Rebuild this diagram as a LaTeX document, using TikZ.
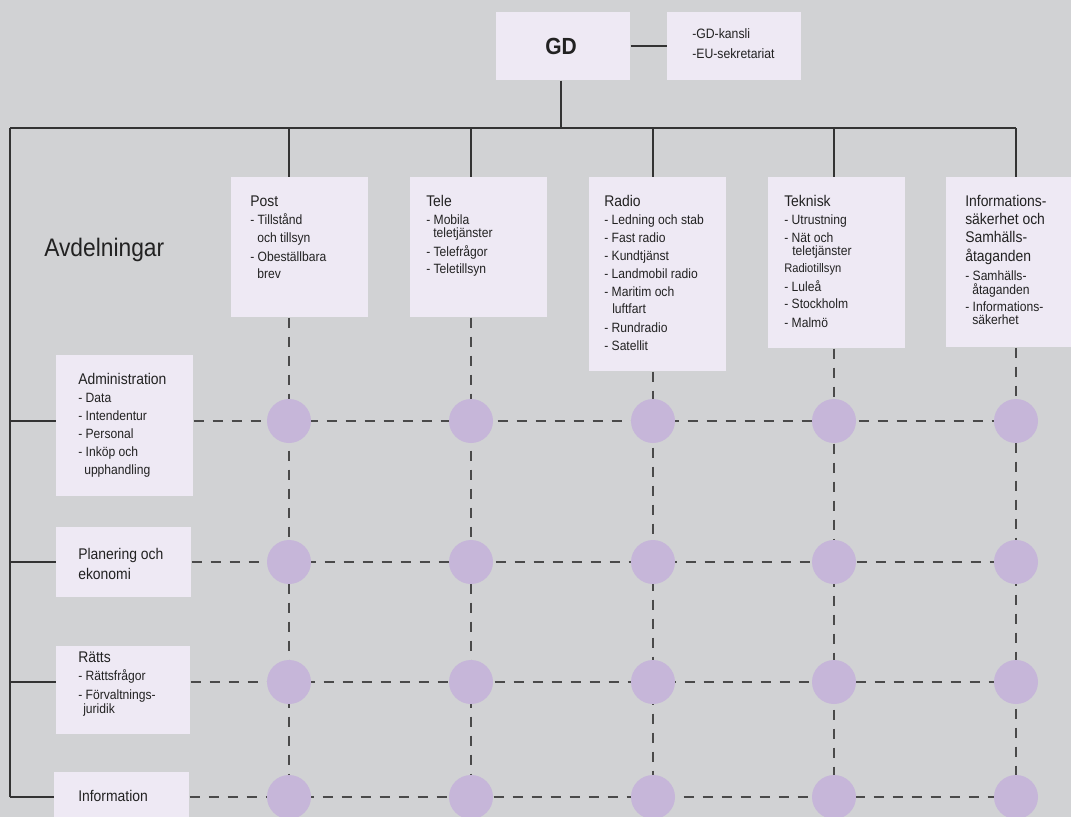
\documentclass[tikz,border=0pt]{standalone}
\usepackage{fontspec}
\setmainfont{Liberation Sans}[FakeStretch=0.9]
\definecolor{bgc}{HTML}{D1D2D4}
\definecolor{boxc}{HTML}{EEE9F4}
\definecolor{dotc}{HTML}{C6B6D9}
\definecolor{linec}{HTML}{333333}
\definecolor{dashc}{HTML}{4A4A4A}
\definecolor{txtc}{HTML}{222222}
\newcommand\FTitle{\fontsize{11.6}{14}\selectfont}
\newcommand\FItem{\fontsize{10.1}{12}\selectfont}
\newcommand\FSmall{\fontsize{9.3}{11}\selectfont}
\newcommand\FAvd{\fontsize{19}{22}\selectfont}
\newcommand\FGD{\fontsize{17.5}{20}\selectfont\bfseries}
\newcommand\FK{\fontsize{10.2}{12}\selectfont}
\newcommand\TxtLine[4]{\node[tx,font=#1] (#2) at (#3) {#4};}
\begin{document}
\begin{tikzpicture}[x=0.75pt,y=-0.75pt,
  box/.style={rectangle,fill=boxc,draw=none,inner sep=0pt,anchor=north west},
  tx/.style={anchor=base west,inner sep=0pt,text=txtc},
  solidline/.style={draw=linec,line width=0.9pt},
  dashline/.style={draw=dashc,line width=0.95pt,dash pattern=on 7.5pt off 6.75pt},
  dot/.style={circle,fill=dotc,draw=none,minimum size=33pt,inner sep=0pt}]
\fill[bgc] (0,0) rectangle (1071,817);
\useasboundingbox (0,0) rectangle (1071,817);

% top boxes
\node[box,minimum width=100.5pt,minimum height=51pt] (gd) at (496,12) {};
\node[font=\FGD,text=txtc,inner sep=0pt] (gdt) at (561,46) {GD};
\node[box,minimum width=100.5pt,minimum height=51pt] (kansli) at (667,12) {};
\TxtLine{\FK}{k1}{692,39}{-GD-kansli}
\TxtLine{\FK}{k2}{692,59}{-EU-sekretariat}

% column boxes
\node[box,minimum width=102.75pt,minimum height=105pt] (cpost) at (231,177) {};
\node[box,minimum width=102.75pt,minimum height=105pt] (ctele) at (410,177) {};
\node[box,minimum width=102.75pt,minimum height=145.5pt] (cradio) at (589,177) {};
\node[box,minimum width=102.75pt,minimum height=128.25pt] (ctek) at (768,177) {};
\node[box,minimum width=102pt,minimum height=127.5pt] (cinfo) at (946,177) {};

% row boxes
\node[box,minimum width=102.75pt,minimum height=105.75pt] (radm) at (56,355) {};
\node[box,minimum width=101.25pt,minimum height=52.5pt] (rplan) at (56,527) {};
\node[box,minimum width=100.5pt,minimum height=66pt] (rratt) at (56,646) {};
\node[box,minimum width=101.25pt,minimum height=45pt] (rinfo) at (54,772) {};

% solid connectors
\coordinate (bl) at (10,128);
\coordinate (bus) at (561,128);
\coordinate (br) at (1016,128);
\draw[solidline] (gd.east |- gdt) -- (kansli.west |- gdt);
\draw[solidline] (gd.south -| bus) -- (bus);
\draw[solidline] (bl) -- (br);
\coordinate (lb) at (10,797);
\draw[solidline] (bl) -- (lb);
\foreach \xx/\nm in {289/cpost,471/ctele,653/cradio,834/ctek,1016/cinfo}{
  \draw[solidline] (\xx,128) -- (\nm.north -| \xx,0);
}
\draw[solidline] (10,421) -- (radm.west |- 0,421);
\draw[solidline] (10,562) -- (rplan.west |- 0,562);
\draw[solidline] (10,682) -- (rratt.west |- 0,682);
\draw[solidline] (lb) -- (rinfo.west |- lb);

% dashed grid
\foreach \xx/\nm in {289/cpost,471/ctele,653/cradio,834/ctek,1016/cinfo}{
  \draw[dashline] (\nm.south -| \xx,0) -- (\xx,817);
}
\draw[dashline] (radm.east |- 0,421) -- (1016,421);
\draw[dashline] (rplan.east |- 0,562) -- (1016,562);
\draw[dashline] (rratt.east |- 0,682) -- (1016,682);
\draw[dashline] (rinfo.east |- 0,797) -- (1016,797);

% dots
\foreach \yy/\r in {421/a,562/b,682/c,797/d}{
  \foreach \xx/\c in {289/1,471/2,653/3,834/4,1016/5}{
    \node[dot] (dot\r\c) at (\xx,\yy) {};
  }
}

% label
\TxtLine{\FAvd}{avd}{44,256}{Avdelningar}

% Post
\TxtLine{\FTitle}{p0}{250,206.5}{Post}
\TxtLine{\FItem}{p1}{250,224}{- Tillstånd}
\TxtLine{\FItem}{p2}{257,242}{och tillsyn}
\TxtLine{\FItem}{p3}{250,261}{- Obeställbara}
\TxtLine{\FItem}{p4}{257,278}{brev}
% Tele
\TxtLine{\FTitle}{t0}{426,206.5}{Tele}
\TxtLine{\FItem}{t1}{426,224}{- Mobila}
\TxtLine{\FItem}{t2}{433,237}{teletjänster}
\TxtLine{\FItem}{t3}{426,256}{- Telefrågor}
\TxtLine{\FItem}{t4}{426,273}{- Teletillsyn}
% Radio
\TxtLine{\FTitle}{r0}{604,206.5}{Radio}
\TxtLine{\FItem}{r1}{604,224}{- Ledning och stab}
\TxtLine{\FItem}{r2}{604,242}{- Fast radio}
\TxtLine{\FItem}{r3}{604,260}{- Kundtjänst}
\TxtLine{\FItem}{r4}{604,278}{- Landmobil radio}
\TxtLine{\FItem}{r5}{604,296}{- Maritim och}
\TxtLine{\FItem}{r6}{612,313}{luftfart}
\TxtLine{\FItem}{r7}{604,332}{- Rundradio}
\TxtLine{\FItem}{r8}{604,350}{- Satellit}
% Teknisk
\TxtLine{\FTitle}{e0}{784,206.5}{Teknisk}
\TxtLine{\FItem}{e1}{784,224}{- Utrustning}
\TxtLine{\FItem}{e2}{784,242}{- Nät och}
\TxtLine{\FItem}{e3}{792,255}{teletjänster}
\TxtLine{\FSmall}{e4}{784,272}{Radiotillsyn}
\TxtLine{\FItem}{e5}{784,291}{- Luleå}
\TxtLine{\FItem}{e6}{784,308}{- Stockholm}
\TxtLine{\FItem}{e7}{784,327}{- Malmö}
% Informationssäkerhet
\TxtLine{\FTitle}{i0}{965,206.5}{Informations-}
\TxtLine{\FTitle}{i1}{965,224.5}{säkerhet och}
\TxtLine{\FTitle}{i2}{965,242.5}{Samhälls-}
\TxtLine{\FTitle}{i3}{965,261.5}{åtaganden}
\TxtLine{\FItem}{i4}{965,280}{- Samhälls-}
\TxtLine{\FItem}{i5}{972,294}{åtaganden}
\TxtLine{\FItem}{i6}{965,311}{- Informations-}
\TxtLine{\FItem}{i7}{972,324}{säkerhet}

% Administration
\TxtLine{\FTitle}{a0}{78,384}{Administration}
\TxtLine{\FItem}{a1}{78,402.5}{- Data}
\TxtLine{\FItem}{a2}{78,420.5}{- Intendentur}
\TxtLine{\FItem}{a3}{78,438.5}{- Personal}
\TxtLine{\FItem}{a4}{78,456.5}{- Inköp och}
\TxtLine{\FItem}{a5}{84,474}{upphandling}
% Planering
\TxtLine{\FTitle}{pl0}{78,559}{Planering och}
\TxtLine{\FTitle}{pl1}{78,579}{ekonomi}
% Rätts
\TxtLine{\FTitle}{ra0}{78,662.5}{Rätts}
\TxtLine{\FItem}{ra1}{78,680.5}{- Rättsfrågor}
\TxtLine{\FItem}{ra2}{78,699.5}{- Förvaltnings-}
\TxtLine{\FItem}{ra3}{83,713.5}{juridik}
% Information
\TxtLine{\FTitle}{in0}{78,801.5}{Information}
\end{tikzpicture}
\end{document}
